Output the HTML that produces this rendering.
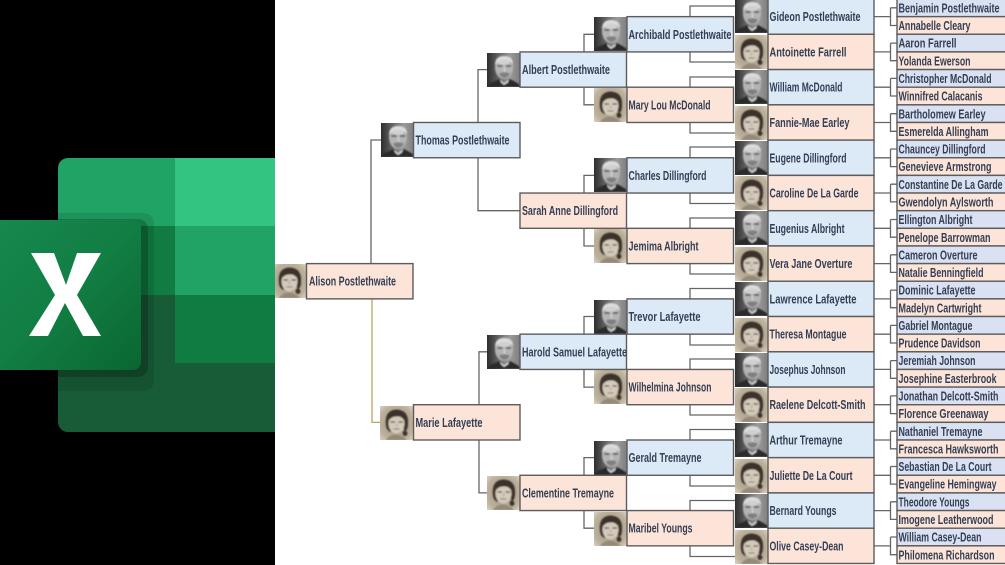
<!DOCTYPE html>
<html><head><meta charset="utf-8"><title>Family Tree</title>
<style>
html,body{margin:0;padding:0;background:#fff;width:1005px;height:565px;overflow:hidden}
svg{display:block;filter:blur(.35px)}
text{font-family:"Liberation Sans",Arial,sans-serif;font-size:13px;font-weight:700;fill:#333f55;transform:translateY(.5px)}
.b{fill:#dce9f6;stroke:#5c5c5c;stroke-width:1.4}
.p{fill:#fde4d8;stroke:#5c5c5c;stroke-width:1.4}
.l{fill:#d9e1f2;stroke:#5c5c5c;stroke-width:1.4}
.c{fill:none;stroke:#666;stroke-width:1.3}
</style></head><body>
<svg xmlns="http://www.w3.org/2000/svg" width="1005" height="565" viewBox="0 0 1005 565">
<defs>
<filter id="s" x="-10%" y="-10%" width="120%" height="120%"><feGaussianBlur stdDeviation=".7"/></filter>
<linearGradient id="mg" x1="0" x2="1" y1="0" y2="0"><stop offset="0" stop-color="#2e2e2e"/><stop offset=".3" stop-color="#5c5c5c"/><stop offset=".7" stop-color="#9a9a9a"/><stop offset="1" stop-color="#7e7e7e"/></linearGradient>
<radialGradient id="wg" cx=".5" cy=".5" r=".72"><stop offset="0" stop-color="#a29480"/><stop offset=".72" stop-color="#bdb19c"/><stop offset="1" stop-color="#dcd4c6"/></radialGradient>
<linearGradient id="xg" x1="0" y1="0" x2="1" y2="1"><stop offset="0" stop-color="#18884f"/><stop offset=".5" stop-color="#117e43"/><stop offset="1" stop-color="#0b6631"/></linearGradient>
<symbol id="m" viewBox="0 0 33 34">
<rect width="33" height="34" fill="url(#mg)"/>
<g filter="url(#s)">
<ellipse cx="17" cy="14.500" rx="9" ry="11.500" fill="#b4b4b4"/>
<path d="M8 12Q8 3 17 3Q26 3 26 11Q22 6.500 17 7Q12 7 8 12Z" fill="#dcdcdc"/>
<ellipse cx="17" cy="9.500" rx="6" ry="2.500" fill="#d0d0d0"/>
<path d="M10.500 13h5M19 13h5" stroke="#4a4a4a" stroke-width="1.500"/>
<path d="M17.500 14v5" stroke="#d8d8d8" stroke-width="1.300"/>
<path d="M12 20.500Q17 18 23 20.500Q21 24.500 17.500 25Q13.500 24.500 12 20.500Z" fill="#7f7f7f"/>
<path d="M0 34L3 30Q9 28 12 26L17 30L23 26Q29 29 33 32V34Z" fill="#2a2a2a"/>
<path d="M13 26.500L17 30L22 26.500L21 29.500L17 32L14 29.500Z" fill="#d5d5d5"/>
</g>
</symbol>
<symbol id="w" viewBox="0 0 33 34">
<rect width="33" height="34" fill="url(#wg)"/>
<g filter="url(#s)">
<path d="M6 20Q4 4 16.500 3.500Q29 4 28 18Q28 23 25 26L22 18Q22 10 17 9Q11 10 10 19L11 26Q7 25 6 20Z" fill="#3a322a"/>
<ellipse cx="16.500" cy="17.500" rx="8" ry="10" fill="#d3cabb"/>
<path d="M8 15Q11 7 17 7Q23 8 25 15Q21 9.500 16.500 10.500Q12 10 8 15Z" fill="#3a322a"/>
<path d="M10.500 16h4.500M18.500 16h4.500" stroke="#5b4d3f" stroke-width="1.200"/>
<path d="M16.500 17v3.500" stroke="#b3a797" stroke-width="1"/>
<path d="M13.500 23h6" stroke="#86725f" stroke-width="1"/>
<path d="M23 25q3.500-1 4.500 2q0 3-3.500 3q-2-2-1-5Z" fill="#3a322a"/>
<path d="M6 34Q9 29 15 28.500Q22 28.500 27 34Z" fill="#95897a"/>
</g>
</symbol>
</defs>
<rect width="1005" height="565" fill="#fff"/>

<!-- connectors -->
<path class="c" d="M371 264V140H381"/>
<path class="c" d="M372 299V422.4H381" style="stroke:#b9a662"/>
<path class="c" d="M478 122.5V69.6H488M478 157.7V210.7H520M479 405V351.8H488M479 440V492.9H488"/>
<path class="c" d="M584 52V34.3H595M584 87V104.8H595M584 193V175.4H595M584 228V246H595M584 334V316.5H595M584 369V387.1H595M584 475V457.6H595M584 511V528.2H595"/>
<path class="c" d="M690 16.6V6H736M690 52V62H736M690 87V77H736M690 122.5V133H736M690 158V147H736M690 193V203.5H736M690 228.5V218H736M690 263.5V274H736M690 299V288.5H736M690 334.5V345H736M690 369.5V359H736M690 404.5V415H736M690 440V429.5H736M690 475.5V486H736M690 511V500.5H736M690 546V556.5H736"/>
<path class="c" d="M874 16.6H890.5M890.5 7.8H897M890.5 7.8V25.5H897M874 51.9H890.5M890.5 43.1H897M890.5 43.1V60.7H897M874 87.2H890.5M890.5 78.4H897M890.5 78.4V96H897M874 122.5H890.5M890.5 113.7H897M890.5 113.7V131.3H897M874 157.8H890.5M890.5 149H897M890.5 149V166.6H897M874 193H890.5M890.5 184.2H897M890.5 184.2V201.9H897M874 228.3H890.5M890.5 219.5H897M890.5 219.5V237.2H897M874 263.6H890.5M890.5 254.8H897M890.5 254.8V272.4H897M874 298.9H890.5M890.5 290.1H897M890.5 290.1V307.7H897M874 334.2H890.5M890.5 325.4H897M890.5 325.4V343H897M874 369.4H890.5M890.5 360.6H897M890.5 360.6V378.3H897M874 404.7H890.5M890.5 395.9H897M890.5 395.9V413.6H897M874 440H890.5M890.5 431.2H897M890.5 431.2V448.8H897M874 475.3H890.5M890.5 466.5H897M890.5 466.5V484.1H897M874 510.6H890.5M890.5 501.8H897M890.5 501.8V519.4H897M874 545.9H890.5M890.5 537H897M890.5 537V554.7H897"/>

<!-- generation 5 -->
<rect class="l" x="897" y="-1" width="110" height="17.64"/><text x="898.5" y="12" textLength="101" lengthAdjust="spacingAndGlyphs">Benjamin Postlethwaite</text>
<rect class="p" x="897" y="16.64" width="110" height="17.64"/><text x="898.5" y="29.6" textLength="72" lengthAdjust="spacingAndGlyphs">Annabelle Cleary</text>
<rect class="l" x="897" y="34.28" width="110" height="17.64"/><text x="898.5" y="47.2" textLength="58" lengthAdjust="spacingAndGlyphs">Aaron Farrell</text>
<rect class="p" x="897" y="51.92" width="110" height="17.64"/><text x="898.5" y="64.9" textLength="72" lengthAdjust="spacingAndGlyphs">Yolanda Ewerson</text>
<rect class="l" x="897" y="69.56" width="110" height="17.64"/><text x="898.5" y="82.5" textLength="93" lengthAdjust="spacingAndGlyphs">Christopher McDonald</text>
<rect class="p" x="897" y="87.2" width="110" height="17.64"/><text x="898.5" y="100.2" textLength="84" lengthAdjust="spacingAndGlyphs">Winnifred Calacanis</text>
<rect class="l" x="897" y="104.84" width="110" height="17.64"/><text x="898.5" y="117.8" textLength="87" lengthAdjust="spacingAndGlyphs">Bartholomew Earley</text>
<rect class="p" x="897" y="122.48" width="110" height="17.64"/><text x="898.5" y="135.4" textLength="90" lengthAdjust="spacingAndGlyphs">Esmerelda Allingham</text>
<rect class="l" x="897" y="140.12" width="110" height="17.64"/><text x="898.5" y="153.1" textLength="87" lengthAdjust="spacingAndGlyphs">Chauncey Dillingford</text>
<rect class="p" x="897" y="157.76" width="110" height="17.64"/><text x="898.5" y="170.7" textLength="93" lengthAdjust="spacingAndGlyphs">Genevieve Armstrong</text>
<rect class="l" x="897" y="175.4" width="110" height="17.64"/><text x="898.5" y="188.3" textLength="104" lengthAdjust="spacingAndGlyphs">Constantine De La Garde</text>
<rect class="p" x="897" y="193.04" width="110" height="17.64"/><text x="898.5" y="206" textLength="95" lengthAdjust="spacingAndGlyphs">Gwendolyn Aylsworth</text>
<rect class="l" x="897" y="210.68" width="110" height="17.64"/><text x="898.5" y="223.6" textLength="74" lengthAdjust="spacingAndGlyphs">Ellington Albright</text>
<rect class="p" x="897" y="228.32" width="110" height="17.64"/><text x="898.5" y="241.3" textLength="92" lengthAdjust="spacingAndGlyphs">Penelope Barrowman</text>
<rect class="l" x="897" y="245.96" width="110" height="17.64"/><text x="898.5" y="258.9" textLength="79" lengthAdjust="spacingAndGlyphs">Cameron Overture</text>
<rect class="p" x="897" y="263.6" width="110" height="17.64"/><text x="898.5" y="276.5" textLength="85" lengthAdjust="spacingAndGlyphs">Natalie Benningfield</text>
<rect class="l" x="897" y="281.24" width="110" height="17.64"/><text x="898.5" y="294.2" textLength="77" lengthAdjust="spacingAndGlyphs">Dominic Lafayette</text>
<rect class="p" x="897" y="298.88" width="110" height="17.64"/><text x="898.5" y="311.8" textLength="83" lengthAdjust="spacingAndGlyphs">Madelyn Cartwright</text>
<rect class="l" x="897" y="316.52" width="110" height="17.64"/><text x="898.5" y="329.5" textLength="74" lengthAdjust="spacingAndGlyphs">Gabriel Montague</text>
<rect class="p" x="897" y="334.16" width="110" height="17.64"/><text x="898.5" y="347.1" textLength="82" lengthAdjust="spacingAndGlyphs">Prudence Davidson</text>
<rect class="l" x="897" y="351.8" width="110" height="17.64"/><text x="898.5" y="364.7" textLength="77" lengthAdjust="spacingAndGlyphs">Jeremiah Johnson</text>
<rect class="p" x="897" y="369.44" width="110" height="17.64"/><text x="898.5" y="382.4" textLength="98" lengthAdjust="spacingAndGlyphs">Josephine Easterbrook</text>
<rect class="l" x="897" y="387.08" width="110" height="17.64"/><text x="898.5" y="400" textLength="100" lengthAdjust="spacingAndGlyphs">Jonathan Delcott-Smith</text>
<rect class="p" x="897" y="404.72" width="110" height="17.64"/><text x="898.5" y="417.7" textLength="90" lengthAdjust="spacingAndGlyphs">Florence Greenaway</text>
<rect class="l" x="897" y="422.36" width="110" height="17.64"/><text x="898.5" y="435.3" textLength="84" lengthAdjust="spacingAndGlyphs">Nathaniel Tremayne</text>
<rect class="p" x="897" y="440" width="110" height="17.64"/><text x="898.5" y="453" textLength="100" lengthAdjust="spacingAndGlyphs">Francesca Hawksworth</text>
<rect class="l" x="897" y="457.64" width="110" height="17.64"/><text x="898.5" y="470.6" textLength="93" lengthAdjust="spacingAndGlyphs">Sebastian De La Court</text>
<rect class="p" x="897" y="475.28" width="110" height="17.64"/><text x="898.5" y="488.2" textLength="98" lengthAdjust="spacingAndGlyphs">Evangeline Hemingway</text>
<rect class="l" x="897" y="492.92" width="110" height="17.64"/><text x="898.5" y="505.9" textLength="71" lengthAdjust="spacingAndGlyphs">Theodore Youngs</text>
<rect class="p" x="897" y="510.56" width="110" height="17.64"/><text x="898.5" y="523.5" textLength="95" lengthAdjust="spacingAndGlyphs">Imogene Leatherwood</text>
<rect class="l" x="897" y="528.2" width="110" height="17.64"/><text x="898.5" y="541.1" textLength="83" lengthAdjust="spacingAndGlyphs">William Casey-Dean</text>
<rect class="p" x="897" y="545.84" width="110" height="17.64"/><text x="898.5" y="558.8" textLength="96" lengthAdjust="spacingAndGlyphs">Philomena Richardson</text>

<!-- generation 4 -->
<use href="#m" x="735" y="-1" width="33" height="34"/><rect class="b" x="768" y="-1" width="106" height="35.28"/><text x="769.5" y="20.6" textLength="91" lengthAdjust="spacingAndGlyphs">Gideon Postlethwaite</text>
<use href="#w" x="735" y="35" width="33" height="34"/><rect class="p" x="768" y="34.28" width="106" height="35.28"/><text x="769.5" y="55.9" textLength="77" lengthAdjust="spacingAndGlyphs">Antoinette Farrell</text>
<use href="#m" x="735" y="70" width="33" height="34"/><rect class="b" x="768" y="69.56" width="106" height="35.28"/><text x="769.5" y="91.2" textLength="73" lengthAdjust="spacingAndGlyphs">William McDonald</text>
<use href="#w" x="735" y="106" width="33" height="34"/><rect class="p" x="768" y="104.84" width="106" height="35.28"/><text x="769.5" y="126.5" textLength="80" lengthAdjust="spacingAndGlyphs">Fannie-Mae Earley</text>
<use href="#m" x="735" y="141" width="33" height="34"/><rect class="b" x="768" y="140.12" width="106" height="35.28"/><text x="769.5" y="161.8" textLength="77" lengthAdjust="spacingAndGlyphs">Eugene Dillingford</text>
<use href="#w" x="735" y="176" width="33" height="34"/><rect class="p" x="768" y="175.4" width="106" height="35.28"/><text x="769.5" y="197" textLength="89" lengthAdjust="spacingAndGlyphs">Caroline De La Garde</text>
<use href="#m" x="735" y="211" width="33" height="34"/><rect class="b" x="768" y="210.68" width="106" height="35.28"/><text x="769.5" y="232.3" textLength="75" lengthAdjust="spacingAndGlyphs">Eugenius Albright</text>
<use href="#w" x="735" y="247" width="33" height="34"/><rect class="p" x="768" y="245.96" width="106" height="35.28"/><text x="769.5" y="267.6" textLength="83" lengthAdjust="spacingAndGlyphs">Vera Jane Overture</text>
<use href="#m" x="735" y="282" width="33" height="34"/><rect class="b" x="768" y="281.24" width="106" height="35.28"/><text x="769.5" y="302.9" textLength="87" lengthAdjust="spacingAndGlyphs">Lawrence Lafayette</text>
<use href="#w" x="735" y="318" width="33" height="34"/><rect class="p" x="768" y="316.52" width="106" height="35.28"/><text x="769.5" y="338.2" textLength="77" lengthAdjust="spacingAndGlyphs">Theresa Montague</text>
<use href="#m" x="735" y="353" width="33" height="34"/><rect class="b" x="768" y="351.8" width="106" height="35.28"/><text x="769.5" y="373.4" textLength="76" lengthAdjust="spacingAndGlyphs">Josephus Johnson</text>
<use href="#w" x="735" y="388" width="33" height="34"/><rect class="p" x="768" y="387.08" width="106" height="35.28"/><text x="769.5" y="408.7" textLength="96" lengthAdjust="spacingAndGlyphs">Raelene Delcott-Smith</text>
<use href="#m" x="735" y="423" width="33" height="34"/><rect class="b" x="768" y="422.36" width="106" height="35.28"/><text x="769.5" y="444" textLength="73" lengthAdjust="spacingAndGlyphs">Arthur Tremayne</text>
<use href="#w" x="735" y="459" width="33" height="34"/><rect class="p" x="768" y="457.64" width="106" height="35.28"/><text x="769.5" y="479.3" textLength="83" lengthAdjust="spacingAndGlyphs">Juliette De La Court</text>
<use href="#m" x="735" y="494" width="33" height="34"/><rect class="b" x="768" y="492.92" width="106" height="35.28"/><text x="769.5" y="514.6" textLength="67" lengthAdjust="spacingAndGlyphs">Bernard Youngs</text>
<use href="#w" x="735" y="530" width="33" height="34"/><rect class="p" x="768" y="528.2" width="106" height="35.28"/><text x="769.5" y="549.9" textLength="74" lengthAdjust="spacingAndGlyphs">Olive Casey-Dean</text>

<!-- generation 3 -->
<use href="#m" x="594" y="17" width="33" height="34"/><rect class="b" x="627" y="16.64" width="106.5" height="35.28"/><text x="628.5" y="38.3" textLength="103" lengthAdjust="spacingAndGlyphs">Archibald Postlethwaite</text>
<use href="#w" x="594" y="88" width="33" height="34"/><rect class="p" x="627" y="87.2" width="106.5" height="35.28"/><text x="628.5" y="108.8" textLength="82" lengthAdjust="spacingAndGlyphs">Mary Lou McDonald</text>
<use href="#m" x="594" y="158" width="33" height="34"/><rect class="b" x="627" y="157.76" width="106.5" height="35.28"/><text x="628.5" y="179.4" textLength="78" lengthAdjust="spacingAndGlyphs">Charles Dillingford</text>
<use href="#w" x="594" y="229" width="33" height="34"/><rect class="p" x="627" y="228.32" width="106.5" height="35.28"/><text x="628.5" y="250" textLength="70" lengthAdjust="spacingAndGlyphs">Jemima Albright</text>
<use href="#m" x="594" y="300" width="33" height="34"/><rect class="b" x="627" y="298.88" width="106.5" height="35.28"/><text x="628.5" y="320.5" textLength="72" lengthAdjust="spacingAndGlyphs">Trevor Lafayette</text>
<use href="#w" x="594" y="370" width="33" height="34"/><rect class="p" x="627" y="369.44" width="106.5" height="35.28"/><text x="628.5" y="391.1" textLength="83" lengthAdjust="spacingAndGlyphs">Wilhelmina Johnson</text>
<use href="#m" x="594" y="441" width="33" height="34"/><rect class="b" x="627" y="440" width="106.5" height="35.28"/><text x="628.5" y="461.6" textLength="73" lengthAdjust="spacingAndGlyphs">Gerald Tremayne</text>
<use href="#w" x="594" y="512" width="33" height="34"/><rect class="p" x="627" y="510.56" width="106.5" height="35.28"/><text x="628.5" y="532.2" textLength="64" lengthAdjust="spacingAndGlyphs">Maribel Youngs</text>

<!-- generation 2 -->
<use href="#m" x="487" y="53" width="33" height="34"/><rect class="b" x="520" y="51.92" width="106.5" height="35.28"/><text x="522" y="73.6" textLength="88" lengthAdjust="spacingAndGlyphs">Albert Postlethwaite</text>
<rect class="p" x="520" y="193.04" width="106.5" height="35.28"/><text x="522" y="214.7" textLength="96" lengthAdjust="spacingAndGlyphs">Sarah Anne Dillingford</text>
<use href="#m" x="487" y="335" width="33" height="34"/><rect class="b" x="520" y="334.16" width="106.5" height="35.28"/><text x="522" y="355.8" textLength="105" lengthAdjust="spacingAndGlyphs">Harold Samuel Lafayette</text>
<use href="#w" x="487" y="476" width="33" height="34"/><rect class="p" x="520" y="475.28" width="106.5" height="35.28"/><text x="522" y="496.9" textLength="92" lengthAdjust="spacingAndGlyphs">Clementine Tremayne</text>

<!-- generation 1 -->
<use href="#m" x="381" y="123" width="33" height="34"/><rect class="b" x="413.5" y="122.48" width="106.5" height="35.28"/><text x="415.5" y="144.1" textLength="94" lengthAdjust="spacingAndGlyphs">Thomas Postlethwaite</text>
<use href="#w" x="380" y="406" width="33" height="34"/><rect class="p" x="413.5" y="404.72" width="106.5" height="35.28"/><text x="415.5" y="426.4" textLength="67" lengthAdjust="spacingAndGlyphs">Marie Lafayette</text>

<!-- root -->
<use href="#w" x="273" y="264" width="33" height="34"/><rect class="p" x="306.5" y="263.6" width="106.5" height="35.28"/><text x="309" y="285.2" textLength="87" lengthAdjust="spacingAndGlyphs">Alison Postlethwaite</text>

<!-- Excel logo panel -->
<rect x="0" y="0" width="275" height="565" fill="#000"/>
<path d="M275 158H68a10 10 0 0 0-10 10V226H275Z" fill="#21a366"/>
<rect x="175" y="158" width="100" height="68.500" fill="#33c481"/>
<rect x="58" y="226" width="117" height="69" fill="#107c41"/>
<rect x="175" y="226" width="100" height="69" fill="#21a366"/>
<rect x="58" y="295" width="117" height="68" fill="#185c37"/>
<rect x="175" y="295" width="100" height="68.500" fill="#107c41"/>
<path d="M58 363H275V432H68a10 10 0 0 1-10-10Z" fill="#185c37"/>
<path d="M58 213H144a10 10 0 0 1 10 10V381a10 10 0 0 1-10 10H58Z" fill="#000" opacity=".1"/>
<path d="M58 219H138a10 10 0 0 1 10 10V367a10 10 0 0 1-10 10H58Z" fill="#000" opacity=".2"/>
<path d="M-5 220H133a8 8 0 0 1 8 8V362a8 8 0 0 1-8 8H-5Z" fill="url(#xg)"/>
<polygon points="31,253 54,253 66,285 77,253 101,253 77,295 101,336 83,336 65,303 48,336 29,336 55,295" fill="#fff"/>
</svg>
</body></html>
